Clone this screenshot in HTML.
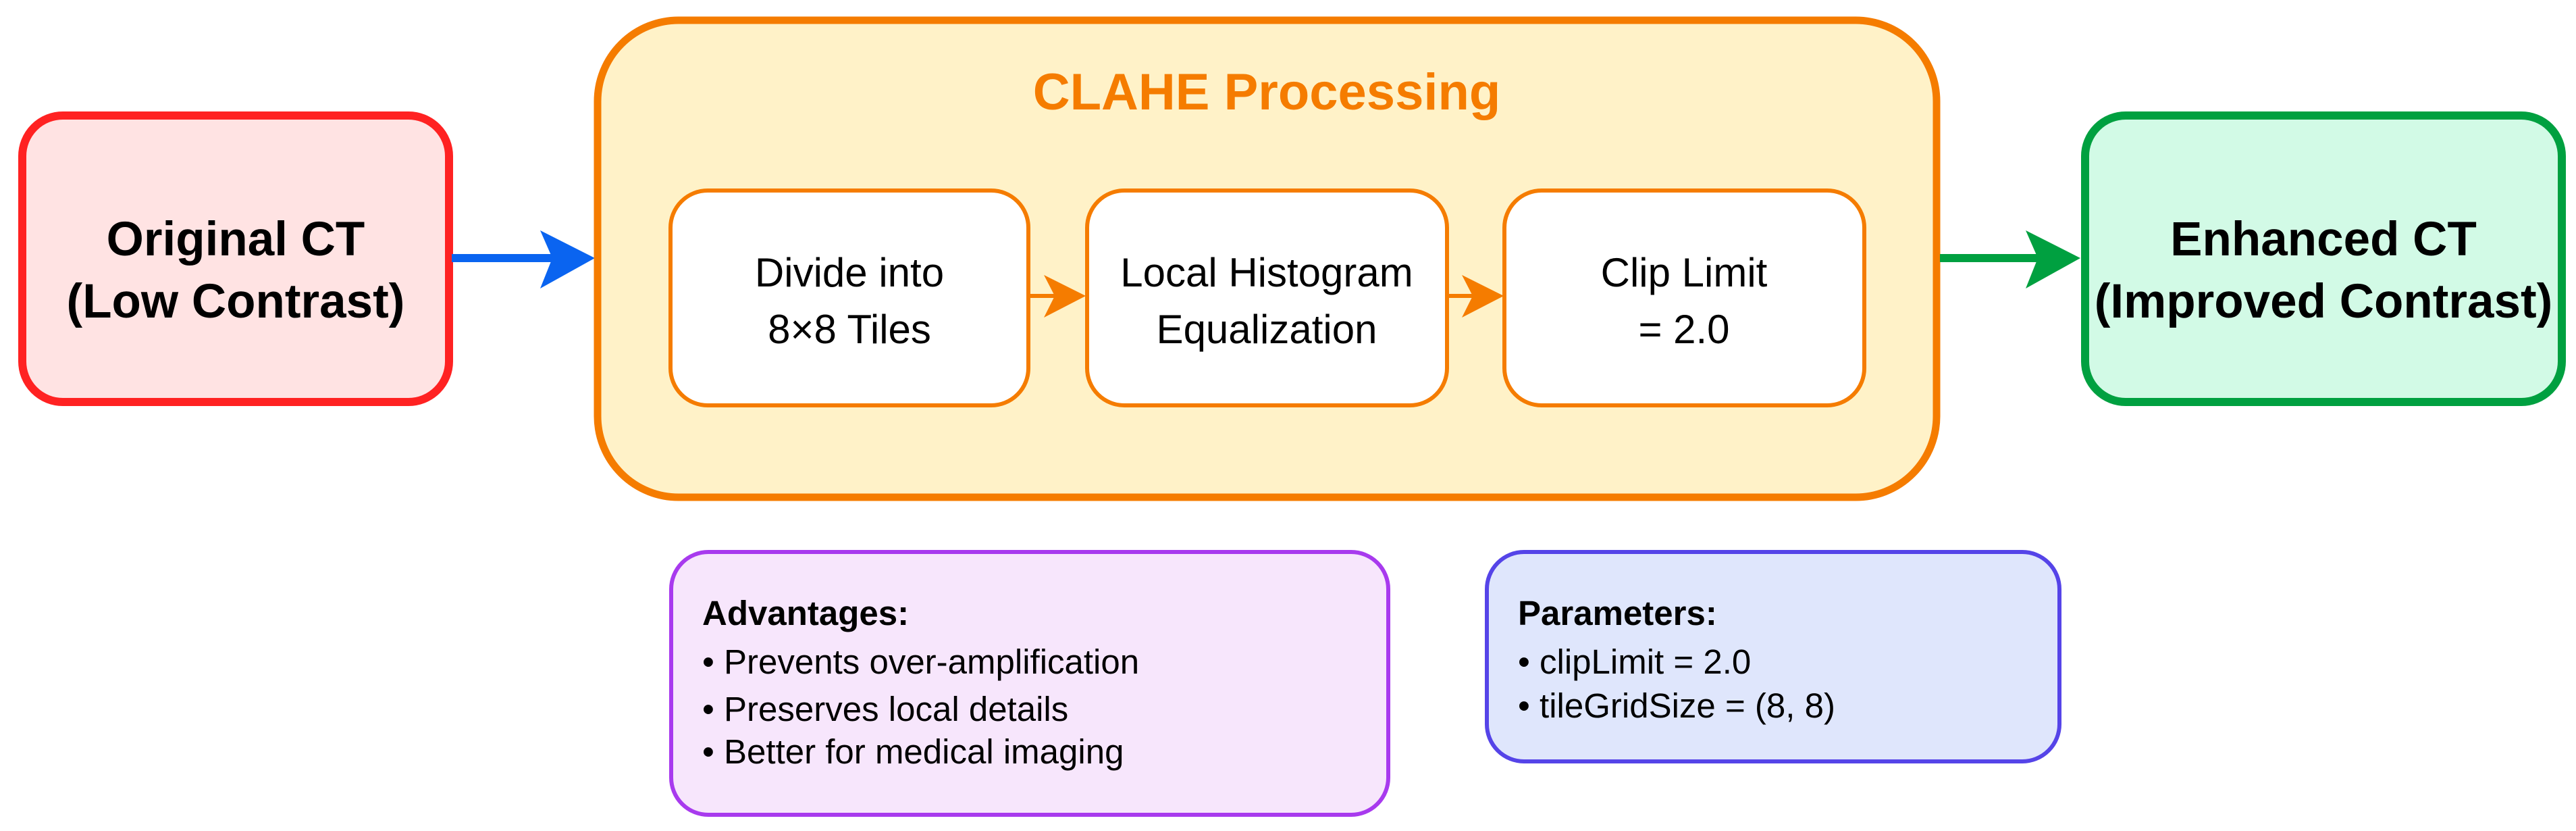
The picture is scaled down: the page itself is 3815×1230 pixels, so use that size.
<!DOCTYPE html>
<html><head><meta charset="utf-8"><style>html,body{margin:0;padding:0;background:#fff}svg{display:block}</style></head>
<body>
<svg width="3815" height="1230" viewBox="0 0 3815 1230" xmlns="http://www.w3.org/2000/svg" font-family="Liberation Sans, Arial, sans-serif">
<!-- Original CT -->
<rect x="33" y="171" width="632" height="424" rx="60" fill="#FFE3E3" stroke="#FF2222" stroke-width="12"/>
<text x="349" y="378" font-size="71" font-weight="bold" text-anchor="middle" fill="#000">Original CT</text>
<text x="349" y="470" font-size="71" font-weight="bold" text-anchor="middle" fill="#000">(Low Contrast)</text>
<!-- blue arrow -->
<line x1="669" y1="382" x2="820" y2="382" stroke="#0A64F0" stroke-width="12"/>
<path d="M881,382 L800,341 L818,382 L800,427 Z" fill="#0A64F0"/>
<!-- CLAHE -->
<rect x="885" y="30" width="1983" height="706" rx="120" fill="#FFF2C8" stroke="#F57C00" stroke-width="11"/>
<text x="1876" y="162" font-size="76" font-weight="bold" text-anchor="middle" fill="#F57C00">CLAHE Processing</text>
<rect x="993" y="282" width="530" height="318" rx="55" fill="#fff" stroke="#F57C00" stroke-width="6"/>
<rect x="1610" y="282" width="533" height="318" rx="55" fill="#fff" stroke="#F57C00" stroke-width="6"/>
<rect x="2228" y="282" width="533" height="318" rx="55" fill="#fff" stroke="#F57C00" stroke-width="6"/>
<g font-size="60" text-anchor="middle" fill="#000">
<text x="1258" y="424">Divide into</text><text x="1258" y="508">8×8 Tiles</text>
<text x="1876" y="424">Local Histogram</text><text x="1876" y="508">Equalization</text>
<text x="2494" y="424">Clip Limit</text><text x="2494" y="508">= 2.0</text>
</g>
<line x1="1523" y1="438" x2="1570" y2="438" stroke="#F57C00" stroke-width="6"/>
<path d="M1608,438 L1546,407 L1562,438 L1546,470 Z" fill="#F57C00"/>
<line x1="2143" y1="438" x2="2190" y2="438" stroke="#F57C00" stroke-width="6"/>
<path d="M2227,438 L2165,407 L2181,438 L2165,470 Z" fill="#F57C00"/>
<!-- green arrow -->
<line x1="2873" y1="382" x2="3030" y2="382" stroke="#00A040" stroke-width="12"/>
<path d="M3081,382 L3000,341 L3018,382 L3000,427 Z" fill="#00A040"/>
<!-- Enhanced CT -->
<rect x="3088" y="171" width="706" height="424" rx="60" fill="#D2FAE6" stroke="#00A040" stroke-width="12"/>
<text x="3441" y="378" font-size="71" font-weight="bold" text-anchor="middle" fill="#000">Enhanced CT</text>
<text x="3441" y="470" font-size="71" font-weight="bold" text-anchor="middle" fill="#000">(Improved Contrast)</text>
<!-- Advantages -->
<rect x="994" y="817" width="1062" height="389" rx="55" fill="#F7E6FC" stroke="#A83AEE" stroke-width="6"/>
<text x="1040" y="925" font-size="51" font-weight="bold" fill="#000">Advantages:</text>
<g font-size="51" fill="#000">
<text x="1040" y="997">• Prevents over-amplification</text>
<text x="1040" y="1067">• Preserves local details</text>
<text x="1040" y="1130">• Better for medical imaging</text>
</g>
<!-- Parameters -->
<rect x="2202" y="817" width="848" height="310" rx="55" fill="#DFE6FC" stroke="#5544E8" stroke-width="6"/>
<text x="2248" y="925" font-size="51" font-weight="bold" fill="#000">Parameters:</text>
<g font-size="51" fill="#000">
<text x="2248" y="997">• clipLimit = 2.0</text>
<text x="2248" y="1062">• tileGridSize = (8, 8)</text>
</g>
</svg>
</body></html>
